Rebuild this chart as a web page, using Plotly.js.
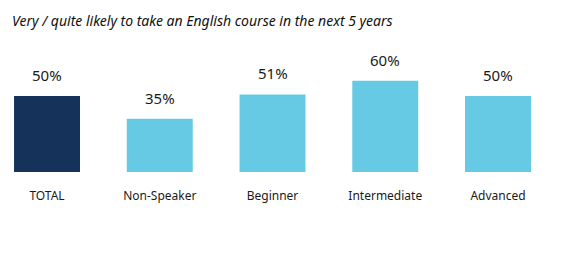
<!DOCTYPE html>
<html><head><meta charset="utf-8">
<script src="https://cdn.plot.ly/plotly-3.0.1.min.js"></script>
<style>html,body{margin:0;padding:0;background:#fff}#c{width:566px;height:263px}</style>
</head><body><div id="c"></div>
<script>
const categories = ["TOTAL", "Non-Speaker", "Beginner", "Intermediate", "Advanced"];
const values = [50, 35, 51, 60, 50];
const labels = ["50%", "35%", "51%", "60%", "50%"];
const colors = ["#15325A", "#67CAE4", "#67CAE4", "#67CAE4", "#67CAE4"];

const ann = categories.map((c, i) => ({
  x: c, y: values[i], xref: "x", yref: "y", text: labels[i], showarrow: false,
  yanchor: "bottom", yshift: 9, font: {family: "Noto Sans, sans-serif", size: 15, color: "#1a1a1a"}
}));
ann.push({
  xref: "paper", yref: "paper", x: 0, y: 1, xanchor: "left", yanchor: "middle",
  xshift: 10, yshift: 0, showarrow: false,
  text: "<i>Very / quite likely to take an English course in the next 5 years</i>",
  font: {family: "Noto Sans, sans-serif", size: 14, color: "#111"}
});

Plotly.newPlot("c", [{
  type: "bar", x: categories, y: values, marker: {color: colors}, hoverinfo: "none"
}], {
  width: 566, height: 263,
  margin: {l: 0, r: 0, t: 20, b: 91},
  paper_bgcolor: "#fff", plot_bgcolor: "#fff",
  bargap: 0.415,
  showlegend: false,
  xaxis: {range: [-0.417, 4.603], showgrid: false, zeroline: false, showline: false,
    ticks: "outside", ticklen: 13, tickcolor: "rgba(0,0,0,0)",
    tickfont: {family: "Noto Sans, sans-serif", size: 12, color: "#1a1a1a"}},
  yaxis: {range: [0, 100], visible: false},
  annotations: ann
}, {staticPlot: true});
</script></body></html>
